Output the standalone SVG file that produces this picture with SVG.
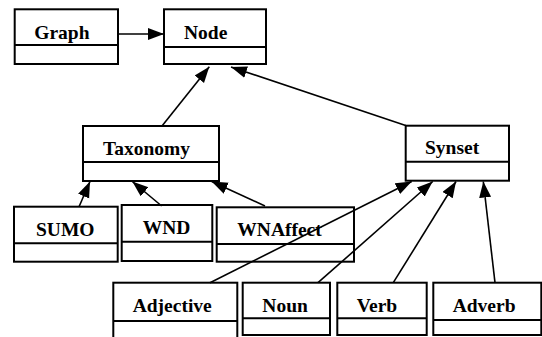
<svg xmlns="http://www.w3.org/2000/svg" width="542" height="337" viewBox="0 0 542 337">
<style>
.box{fill:#fff;stroke:#000;stroke-width:2}
.div{stroke:#000;stroke-width:2}
.lbl{font-family:"Liberation Serif","Times New Roman",serif;font-weight:bold;font-size:19.5px;fill:#000}
.edge{stroke:#000;stroke-width:1.6;fill:none;marker-end:url(#ah)}
</style>
<defs>
<marker id="ah" markerUnits="userSpaceOnUse" markerWidth="17" markerHeight="13" refX="16" refY="6" orient="auto">
<path d="M0,0 L16,6 L0,12 z" fill="#000"/>
</marker>
</defs>
<rect width="542" height="337" fill="#fff"/>
<g id="nodes">
<g id="graph"><rect class="box" x="14.7" y="9.3" width="103.3" height="54.7"/><line class="div" x1="14.7" y1="45" x2="118" y2="45"/><text class="lbl" x="34.3" y="39.3">Graph</text></g>
<g id="node"><rect class="box" x="164" y="9.3" width="102" height="54.7"/><line class="div" x1="164" y1="47" x2="266" y2="47"/><text class="lbl" x="184" y="39.3">Node</text></g>
<g id="taxonomy"><rect class="box" x="83" y="126" width="136" height="55"/><line class="div" x1="83" y1="162" x2="219" y2="162"/><text class="lbl" x="103" y="155">Taxonomy</text></g>
<g id="synset"><rect class="box" x="405.7" y="125.7" width="103.3" height="55"/><line class="div" x1="405.7" y1="161.7" x2="509" y2="161.7"/><text class="lbl" x="425" y="154.3">Synset</text></g>
<g id="sumo"><rect class="box" x="14" y="206.7" width="103.7" height="55"/><line class="div" x1="14" y1="243.3" x2="117.7" y2="243.3"/><text class="lbl" x="36" y="235.7">SUMO</text></g>
<g id="wnd"><rect class="box" x="121.7" y="205" width="90.6" height="56"/><line class="div" x1="121.7" y1="241.7" x2="212.3" y2="241.7"/><text class="lbl" x="142.7" y="234.3">WND</text></g>
<g id="wnaffect"><rect class="box" x="216.7" y="207.3" width="137.3" height="54.4"/><line class="div" x1="216.7" y1="244" x2="354" y2="244"/><text class="lbl" x="237.3" y="235.7">WNAffect</text></g>
<g id="adjective"><rect class="box" x="113.3" y="282.7" width="124" height="60"/><line class="div" x1="113.3" y1="321" x2="237.3" y2="321"/><text class="lbl" x="132.7" y="311.7">Adjective</text></g>
<g id="noun"><rect class="box" x="242.7" y="282.7" width="87.3" height="52.3"/><line class="div" x1="242.7" y1="318.3" x2="330" y2="318.3"/><text class="lbl" x="262.3" y="311.7">Noun</text></g>
<g id="verb"><rect class="box" x="337.3" y="282.7" width="89.4" height="52.3"/><line class="div" x1="337.3" y1="318.3" x2="426.7" y2="318.3"/><text class="lbl" x="356.7" y="311.7">Verb</text></g>
<g id="adverb"><rect class="box" x="433.3" y="282.7" width="108" height="52.3"/><line class="div" x1="433.3" y1="320" x2="541.3" y2="320"/><text class="lbl" x="452.7" y="311.7">Adverb</text></g>
</g>
<g id="connectors">
<line class="edge" x1="118" y1="34" x2="164" y2="34"/>
<line class="edge" x1="162" y1="126" x2="209.3" y2="66.7"/>
<line class="edge" x1="405.7" y1="125.5" x2="231" y2="67"/>
<line class="edge" x1="79" y1="206.7" x2="90" y2="181.5"/>
<line class="edge" x1="161.7" y1="206" x2="132.3" y2="181.5"/>
<line class="edge" x1="265" y1="206" x2="211.7" y2="181.5"/>
<line class="edge" x1="210" y1="282.7" x2="411.7" y2="181.5"/>
<line class="edge" x1="318" y1="282.7" x2="432.7" y2="181.5"/>
<line class="edge" x1="393.3" y1="282.7" x2="456" y2="181.5"/>
<line class="edge" x1="495" y1="282.7" x2="483.3" y2="181.5"/>
</g>
</svg>
